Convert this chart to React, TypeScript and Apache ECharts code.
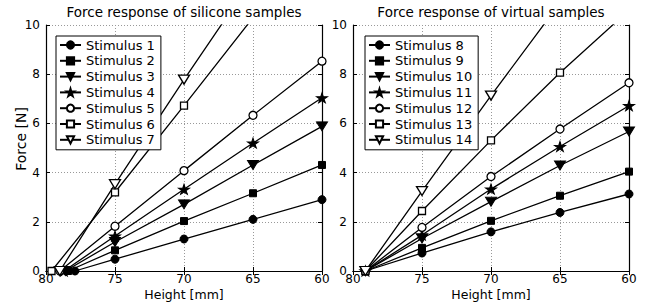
import React, { useEffect, useRef } from "react";
import * as echarts from "echarts";

const heights = [75, 70, 65, 60];

const siliconeNames = ["Stimulus 1", "Stimulus 2", "Stimulus 3", "Stimulus 4", "Stimulus 5", "Stimulus 6", "Stimulus 7"];
const siliconeStart = [77.9, 78.4, 78.6, 78.7, 79.0, 79.6, 79.0];
const silicone1 = [0.48, 1.3, 2.1, 2.9];
const silicone2 = [0.84, 2.03, 3.16, 4.31];
const silicone3 = [1.18, 2.71, 4.31, 5.88];
const silicone4 = [1.42, 3.32, 5.2, 7.04];
const silicone5 = [1.82, 4.08, 6.33, 8.53];
const silicone6 = [3.2, 6.72, 10.3, 13.8];
const silicone7 = [3.53, 7.78, 11.9, 15.9];

const virtualNames = ["Stimulus 8", "Stimulus 9", "Stimulus 10", "Stimulus 11", "Stimulus 12", "Stimulus 13", "Stimulus 14"];
const virtualStart = [79.1, 79.1, 79.1, 79.1, 79.1, 79.1, 79.1];
const virtual8 = [0.73, 1.59, 2.38, 3.13];
const virtual9 = [0.94, 2.04, 3.06, 4.04];
const virtual10 = [1.32, 2.82, 4.29, 5.67];
const virtual11 = [1.46, 3.33, 5.06, 6.72];
const virtual12 = [1.77, 3.84, 5.77, 7.65];
const virtual13 = [2.44, 5.31, 8.06, 10.6];
const virtual14 = [3.25, 7.13, 10.9, 14.7];

const FONT = "'DejaVu Sans', Verdana, sans-serif";

const TRI_DOWN = "path://M0,0 L10,0 L5,8.66 Z";
const STAR = "path://M50,0 L61,35 L98,35 L68,57 L79,91 L50,70 L21,91 L32,57 L2,35 L39,35 Z";

type Marker = { symbol: string; size: number | number[]; filled: boolean };
const markers: Marker[] = [
  { symbol: "circle", size: 8, filled: true },
  { symbol: "rect", size: 7, filled: true },
  { symbol: TRI_DOWN, size: [11, 9], filled: true },
  { symbol: STAR, size: [11, 10], filled: true },
  { symbol: "circle", size: 8, filled: false },
  { symbol: "rect", size: 7, filled: false },
  { symbol: TRI_DOWN, size: [11, 9], filled: false },
];

function makeSeries(name: string, start: number, vals: number[], m: Marker, gi: number) {
  const data = [[start, 0], ...heights.map((h, i) => [h, vals[i]])];
  return {
    type: "line",
    name,
    xAxisIndex: gi * 2,
    yAxisIndex: gi * 2,
    data,
    symbol: m.symbol,
    symbolSize: m.size,
    showAllSymbol: true,
    clip: true,
    lineStyle: { color: "#000", width: 1.3 },
    itemStyle: m.filled
      ? { color: "#000", borderColor: "#000", borderWidth: 1 }
      : { color: "#fff", borderColor: "#000", borderWidth: 1.3 },
    emphasis: { disabled: true },
  };
}

function axesFor(gi: number) {
  const tickStyle = { show: true, inside: true, length: 4, lineStyle: { color: "#000", width: 1 } };
  const lineStyle = { show: true, lineStyle: { color: "#000", width: 1.2 } };
  const split = { show: true, lineStyle: { color: "#999", type: [1, 2], width: 1 } };
  const xa = [
    {
      type: "value",
      gridIndex: gi,
      position: "bottom",
      min: 60,
      max: 80,
      interval: 5,
      inverse: true,
      axisLine: lineStyle,
      axisTick: tickStyle,
      splitLine: split,
      axisLabel: { color: "#000", fontSize: 12, lineHeight: 12, fontFamily: FONT, margin: 1.5 },
    },
    {
      type: "value",
      gridIndex: gi,
      position: "top",
      min: 60,
      max: 80,
      interval: 5,
      inverse: true,
      axisLine: lineStyle,
      axisTick: tickStyle,
      splitLine: { show: false },
      axisLabel: { show: false },
    },
  ];
  const ya = [
    {
      type: "value",
      gridIndex: gi,
      position: "left",
      min: 0,
      max: 10,
      interval: 2,
      axisLine: lineStyle,
      axisTick: tickStyle,
      splitLine: split,
      axisLabel: { color: "#000", fontSize: 12, fontFamily: FONT, margin: 6 },
    },
    {
      type: "value",
      gridIndex: gi,
      position: "right",
      min: 0,
      max: 10,
      interval: 2,
      axisLine: lineStyle,
      axisTick: tickStyle,
      splitLine: { show: false },
      axisLabel: { show: false },
    },
  ];
  return { xa, ya };
}

function legendFor(names: string[], left: number) {
  return {
    data: names,
    orient: "vertical",
    left,
    top: 36,
    itemWidth: 21,
    itemHeight: 9,
    itemGap: 1.8,
    padding: [2, 6, 3, 3],
    backgroundColor: "#fff",
    borderColor: "#000",
    borderWidth: 1,
    borderRadius: 0,
    selectedMode: false,
    textStyle: { color: "#000", fontSize: 13, fontFamily: FONT, lineHeight: 14 },
  };
}

export default function App() {
  const ref = useRef<HTMLDivElement>(null);
  useEffect(() => {
    if (!ref.current) return;
    const chart = echarts.init(ref.current, null, { renderer: "svg" });
    const a0 = axesFor(0);
    const a1 = axesFor(1);
    const sVals = [silicone1, silicone2, silicone3, silicone4, silicone5, silicone6, silicone7];
    const vVals = [virtual8, virtual9, virtual10, virtual11, virtual12, virtual13, virtual14];
    const series = [
      ...siliconeNames.map((n, i) => makeSeries(n, siliconeStart[i], sVals[i], markers[i], 0)),
      ...virtualNames.map((n, i) => makeSeries(n, virtualStart[i], vVals[i], markers[i], 1)),
    ];
    const txt = (text: string, x: number, y: number, size: number, rotation = 0) => ({
      type: "text",
      x,
      y,
      rotation,
      style: { text, fontSize: size, lineHeight: size, fontFamily: FONT, fill: "#000", align: "center", verticalAlign: "middle" },
    });
    chart.setOption({
      animation: false,
      backgroundColor: "#fff",
      textStyle: { fontFamily: FONT },
      grid: [
        { left: 46, right: 335, top: 25, bottom: 31, show: false },
        { left: 353, right: 28, top: 25, bottom: 31, show: false },
      ],
      xAxis: [...a0.xa, ...a1.xa],
      yAxis: [...a0.ya, ...a1.ya],
      legend: [legendFor(siliconeNames, 56), legendFor(virtualNames, 365)],
      series,
      graphic: [
        txt("Force response of silicone samples", 184, 12, 13.5),
        txt("Force response of virtual samples", 491, 12, 13.5),
        txt("Height [mm]", 184, 294, 12.5),
        txt("Height [mm]", 491, 294, 12.5),
        txt("Force [N]", 21, 139, 14, Math.PI / 2),
      ],
    });
    return () => chart.dispose();
  }, []);
  return <div ref={ref} style={{ position: "fixed", left: 0, top: 0, width: 657, height: 302 }} />;
}
